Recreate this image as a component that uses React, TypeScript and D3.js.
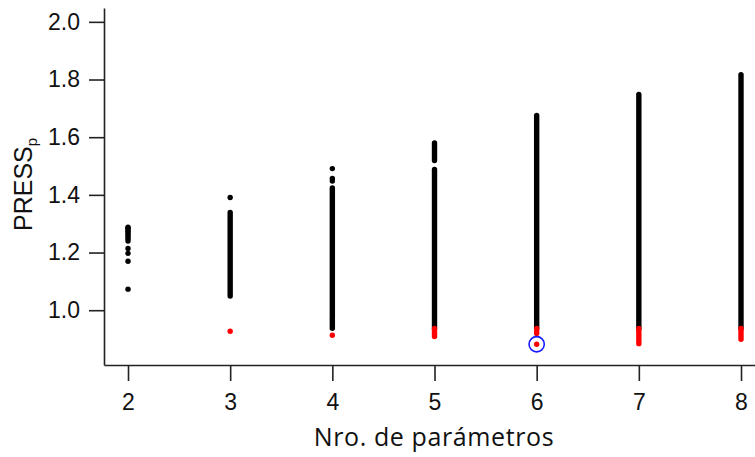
import React, { useEffect, useRef } from "react";
import * as d3 from "d3";

// values
const params = [2, 3, 4, 5, 6, 7, 8];
const yTicks = [1.0, 1.2, 1.4, 1.6, 1.8, 2.0];

// isolated black points [params, PRESSp]
const blackPoints: [number, number][] = [
  [2, 1.288], [2, 1.284], [2, 1.279], [2, 1.274], [2, 1.268], [2, 1.262],
  [2, 1.255], [2, 1.248], [2, 1.24], [2, 1.214], [2, 1.197], [2, 1.17], [2, 1.073],
  [3, 1.391],
  [4, 1.491], [4, 1.457], [4, 1.448],
];

// dense runs of black points [params, low, high]
const blackRuns: [number, number, number][] = [
  [3, 1.049, 1.339],
  [4, 0.9375, 0.968],
  [4, 0.975, 1.424],
  [5, 0.937, 1.488],
  [5, 1.519, 1.58],
  [6, 0.937, 1.675],
  [7, 0.937, 1.748],
  [8, 0.937, 1.817],
];

// red points (below threshold)
const redPoints: [number, number][] = [
  [3, 0.927],
  [4, 0.913],
  [6, 0.882],
];
const redRuns: [number, number, number][] = [
  [5, 0.909, 0.937],
  [6, 0.919, 0.937],
  [7, 0.884, 0.937],
  [8, 0.899, 0.937],
];

// best model, circled
const best: [number, number] = [6, 0.882];

const W = 755;
const H = 457;

export default function App() {
  const ref = useRef<SVGSVGElement>(null);

  useEffect(() => {
    const svg = d3.select(ref.current);
    svg.selectAll("*").remove();

    const x = d3.scaleLinear().domain([1.765, 8.137]).range([104, 755]);
    const y = d3.scaleLinear().domain([0.81, 2.048]).range([365, 8]);
    const r = 2.7;

    // dense runs
    svg.append("g").selectAll("line")
      .data(blackRuns)
      .enter().append("line")
      .attr("x1", d => x(d[0])).attr("x2", d => x(d[0]))
      .attr("y1", d => y(d[1])).attr("y2", d => y(d[2]))
      .attr("stroke", "#000").attr("stroke-width", r * 2)
      .attr("stroke-linecap", "round");

    svg.append("g").selectAll("circle")
      .data(blackPoints)
      .enter().append("circle")
      .attr("cx", d => x(d[0])).attr("cy", d => y(d[1]))
      .attr("r", r).attr("fill", "#000");

    svg.append("g").selectAll("line")
      .data(redRuns)
      .enter().append("line")
      .attr("x1", d => x(d[0])).attr("x2", d => x(d[0]))
      .attr("y1", d => y(d[1])).attr("y2", d => y(d[2]))
      .attr("stroke", "#ff0000").attr("stroke-width", r * 2)
      .attr("stroke-linecap", "round");

    svg.append("g").selectAll("circle")
      .data(redPoints)
      .enter().append("circle")
      .attr("cx", d => x(d[0])).attr("cy", d => y(d[1]))
      .attr("r", r).attr("fill", "#ff0000");

    svg.append("circle")
      .attr("cx", x(best[0])).attr("cy", y(best[1]))
      .attr("r", 7.6).attr("fill", "none")
      .attr("stroke", "#1a1aff").attr("stroke-width", 1.6);

    // axes
    const yAxis = svg.append("g")
      .attr("transform", "translate(104,0)")
      .call(d3.axisLeft(y).tickValues(yTicks).tickFormat(d3.format(".1f"))
        .tickSize(15).tickSizeOuter(0).tickPadding(9));

    const xAxis = svg.append("g")
      .attr("transform", "translate(0,365)")
      .call(d3.axisBottom(x).tickValues(params).tickFormat(d3.format("d"))
        .tickSize(16).tickSizeOuter(0).tickPadding(13));

    [yAxis, xAxis].forEach(g => {
      g.select(".domain").attr("stroke", "#222").attr("stroke-width", 1.6);
      g.selectAll(".tick line").attr("stroke", "#222").attr("stroke-width", 1.6);
      g.selectAll(".tick text")
        .attr("fill", "#111")
        .style("font-family", "'Liberation Sans', Arial, sans-serif")
        .style("font-size", "23px");
    });

    // y title with subscript
    const yt = svg.append("text")
      .attr("transform", "translate(32,231) rotate(-90)")
      .attr("fill", "#111")
      .style("font-family", "'Liberation Sans', Arial, sans-serif")
      .style("font-size", "25px");
    yt.append("tspan").text("PRESS");
    yt.append("tspan").attr("dy", 5).style("font-size", "15px").text("p");

    svg.append("text")
      .attr("x", 434).attr("y", 446)
      .attr("text-anchor", "middle")
      .attr("fill", "#111")
      .style("font-family", "'Open Sans', sans-serif")
      .style("font-size", "25px")
      .style("letter-spacing", "0.6px")
      .text("Nro. de parámetros");
  }, []);

  return (
    <svg ref={ref} width={W} height={H}
      style={{ position: "absolute", left: 0, top: 0, background: "#fff" }} />
  );
}
